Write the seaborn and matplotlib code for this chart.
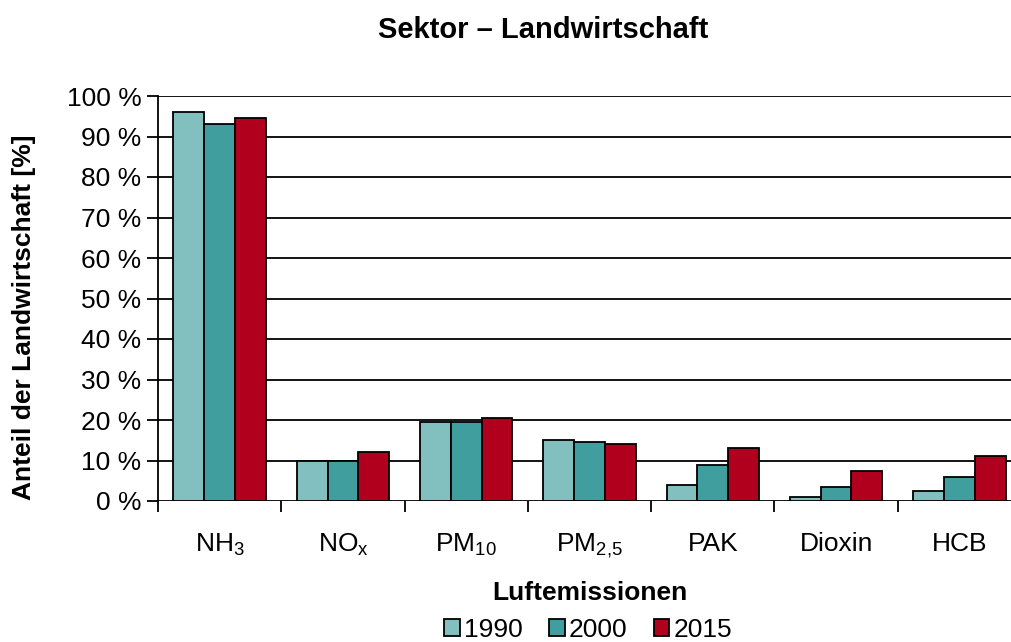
import matplotlib
matplotlib.use("Agg")
import matplotlib.pyplot as plt
import seaborn as sns
import pandas as pd
import numpy as np
from matplotlib.patches import Patch

categories = ["NH$_3$", "NO$_x$", "PM$_{10}$", "PM$_{2{,}5}$", "PAK", "Dioxin", "HCB"]
years = ["1990", "2000", "2015"]
v1990 = [96, 10, 19.5, 15, 4, 1, 2.5]
v2000 = [93, 10, 19.5, 14.5, 9, 3.5, 6]
v2015 = [94.5, 12, 20.5, 14, 13, 7.5, 11]
yticks = [0, 10, 20, 30, 40, 50, 60, 70, 80, 90, 100]
colors = ["#82BFBF", "#409E9E", "#B0001E"]

sns.set_style("white")
plt.rcParams['font.family'] = ['Liberation Sans', 'DejaVu Sans']
plt.rcParams['mathtext.fontset'] = 'custom'
plt.rcParams['mathtext.rm'] = 'Liberation Sans'
plt.rcParams['mathtext.it'] = 'Liberation Sans'
plt.rcParams['mathtext.default'] = 'regular'
plt.rcParams['text.color'] = 'black'
plt.rcParams['xtick.color'] = 'black'
plt.rcParams['ytick.color'] = 'black'
plt.rcParams['axes.labelcolor'] = 'black'

df = pd.DataFrame({
    "cat": categories * 3,
    "year": [y for y in years for _ in categories],
    "val": v1990 + v2000 + v2015,
})

fs = 19
fig = plt.figure(figsize=(10.11, 6.42), dpi=100)
ax = fig.add_axes([158/1011, 1-501/642, (1021-158)/1011, (501-96)/642])
sns.barplot(data=df, x="cat", y="val", hue="year", palette=colors, width=0.75,
            saturation=1, edgecolor="black", linewidth=1.3, ax=ax, legend=False, zorder=3)

ax.set_xlim(-0.5, 6.5)
ax.set_ylim(0, 100)
ax.set_yticks(yticks)
ax.set_yticklabels([f"{t} %" for t in yticks], fontsize=fs)
for t in yticks:
    ax.axhline(t, color="black", linewidth=1.3, zorder=1)
ax.set_xticks(range(len(categories)))
ax.set_xticklabels(categories, fontsize=fs)
ax.set_xticks(np.arange(-0.5, 6.6, 1), minor=True)
ax.tick_params(axis="x", which="major", length=0, pad=22)
ax.tick_params(axis="x", which="minor", length=8, width=1.3, color="black", direction="out", bottom=True)
ax.tick_params(axis="y", which="major", length=8, width=1.3, color="black", direction="out", left=True, pad=4)
for s in ["top", "right", "bottom"]:
    ax.spines[s].set_visible(False)
ax.spines["left"].set_color("black")
ax.spines["left"].set_linewidth(1.3)
ax.set_xlabel("")
ax.set_ylabel("")

fig.text(543/1011, 1-30/642, "Sektor – Landwirtschaft", ha="center", va="center",
         fontsize=21, fontweight="bold")
fig.text(24/1011, 1-317/642, "Anteil der Landwirtschaft [%]", ha="center", va="center",
         rotation=90, fontsize=fs, fontweight="bold")
fig.text(590/1011, 1-593/642, "Luftemissionen", ha="center", va="center",
         fontsize=fs, fontweight="bold")

handles = [Patch(facecolor=c, edgecolor="black", linewidth=1.3) for c in colors]
fig.legend(handles, years, loc="center", bbox_to_anchor=(588/1011, 1-630/642), ncol=3,
           frameon=False, fontsize=fs, handlelength=0.6, handleheight=0.6,
           handletextpad=0.15, columnspacing=1.0, borderpad=0)

fig.savefig("out.png", dpi=100)
